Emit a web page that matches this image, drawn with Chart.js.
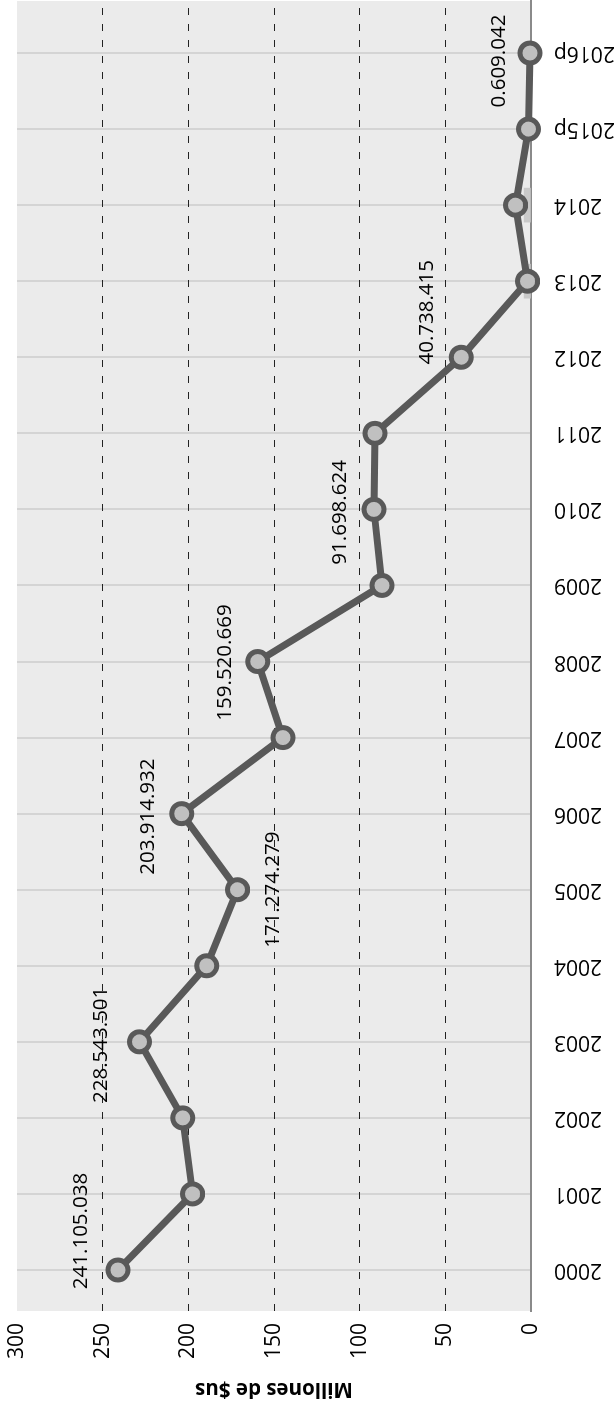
<!DOCTYPE html>
<html>
<head>
<meta charset="utf-8">
<script src="https://cdn.jsdelivr.net/npm/chart.js@4/dist/chart.umd.min.js"></script>
<style>
  html, body { margin: 0; padding: 0; background: #fff; overflow: hidden; width: 614px; height: 1405px; }
  #wrap { position: absolute; left: 0; top: 0; width: 1405px; height: 614px;
          transform-origin: 0 0; transform: translate(0, 1405px) rotate(-90deg); }
</style>
</head>
<body>
<div id="wrap"><canvas id="c" width="1405" height="614"></canvas></div>
<script>
// ---- data ----
const categories = ['2000','2001','2002','2003','2004','2005','2006','2007','2008','2009','2010','2011','2012','2013','2014','2015p','2016p'];
const values = [241.105038, 197.5, 203.3, 228.543501, 189.3, 171.274279, 203.914932, 144.8, 159.520669, 87.0, 91.698624, 91.1, 40.738415, 2.0, 9.0, 1.5, 0.609042];
const shadeValues = [null, null, null, null, null, null, null, null, null, null, null, null, null, 4, 4, null, null];
const valueTicks = [0, 50, 100, 150, 200, 250, 300];
const axisTitle = 'Millones de $us';
const labeledIndices = [0, 3, 5, 6, 8, 10, 12, 16];

// ---- label placement (style, not data) ----
const labelPlacement = {
  0: { dx: 39, dy: -37 },
  3: { dx: -3, dy: -38 },
  5: { dx: 0, dy: 36 },
  6: { dx: -3, dy: -33 },
  8: { dx: -1, dy: -33 },
  10: { dx: -3, dy: -34 },
  12: { dx: 45, dy: -34 },
  16: { dx: -8, dy: -31 }
};

function fmtLabel(v) {
  const s = v.toFixed(6);
  const [ip, dp] = s.split('.');
  return ip + '.' + dp.slice(0, 3) + '.' + dp.slice(3);
}

const FONT = '"Open Sans", "Noto Sans", sans-serif';

const plotBg = {
  id: 'plotBg',
  beforeDraw(chart) {
    const { ctx, chartArea: a } = chart;
    ctx.save();
    ctx.fillStyle = '#fff';
    ctx.fillRect(0, 0, chart.width, chart.height);
    ctx.fillStyle = '#ebebeb';
    ctx.fillRect(a.left, a.top, a.right - a.left, a.bottom - a.top);
    ctx.restore();
  }
};

const pointLabels = {
  id: 'pointLabels',
  afterDatasetsDraw(chart) {
    const { ctx } = chart;
    const meta = chart.getDatasetMeta(0);
    ctx.save();
    ctx.font = '20.5px ' + FONT;
    ctx.fillStyle = '#000';
    ctx.textAlign = 'center';
    ctx.textBaseline = 'middle';
    labeledIndices.forEach(i => {
      const pt = meta.data[i];
      const p = labelPlacement[i] || { dx: 0, dy: -34 };
      ctx.fillText(fmtLabel(values[i]), pt.x + p.dx, pt.y + p.dy);
    });
    ctx.restore();
  }
};

new Chart(document.getElementById('c'), {
  data: {
    datasets: [
      {
        type: 'line',
        data: values.map((v, i) => ({ x: i, y: v })),
        borderColor: '#595959',
        borderWidth: 7,
        tension: 0,
        pointRadius: 10,
        pointHoverRadius: 10,
        pointBorderWidth: 5,
        pointBackgroundColor: '#c0c0c0',
        pointBorderColor: '#595959',
        clip: false
      },
      {
        type: 'bar',
        data: shadeValues.map((v, i) => ({ x: i, y: v })),
        backgroundColor: '#c9c9c9',
        barThickness: 34
      }
    ]
  },
  options: {
    responsive: false,
    devicePixelRatio: 1,
    animation: false,
    events: [],
    layout: { autoPadding: false, padding: { top: 17, right: 1, left: 0, bottom: 0 } },
    plugins: { legend: { display: false }, tooltip: { enabled: false } },
    scales: {
      x: {
        type: 'linear',
        min: -0.539,
        max: 16.684,
        offset: false,
        afterBuildTicks(scale) { scale.ticks = categories.map((c, i) => ({ value: i })); },
        afterFit(scale) { scale.height = 83; scale.paddingLeft = 0; scale.paddingRight = 0; },
        ticks: {
          autoSkip: false,
          minRotation: 90,
          maxRotation: 90,
          padding: 23,
          color: '#000',
          font: { family: FONT, size: 21 },
          callback: (v) => categories[v]
        },
        grid: { color: '#d4d4d4', lineWidth: 2, drawTicks: false, offset: false },
        border: { display: true, color: '#8a8a8a', width: 2 }
      },
      y: {
        type: 'linear',
        min: 0,
        max: 300,
        afterBuildTicks(scale) { scale.ticks = valueTicks.map(v => ({ value: v })); },
        afterFit(scale) { scale.width = 94; scale.paddingTop = 0; scale.paddingBottom = 0; },
        ticks: {
          padding: 12,
          color: '#000',
          font: { family: FONT, size: 21 }
        },
        grid: {
          drawTicks: false,
          lineWidth: 1,
          color: (ctx) => (ctx.tick && (ctx.tick.value === 0 || ctx.tick.value === 300)) ? 'rgba(0,0,0,0)' : '#222'
        },
        border: { display: false, dash: [7, 9] },
        title: {
          display: true,
          text: axisTitle,
          color: '#000',
          font: { family: FONT, size: 20.5, weight: 'bold' },
          padding: { top: 4, bottom: 0 }
        }
      }
    }
  },
  plugins: [plotBg, pointLabels]
});
</script>
</body>
</html>
